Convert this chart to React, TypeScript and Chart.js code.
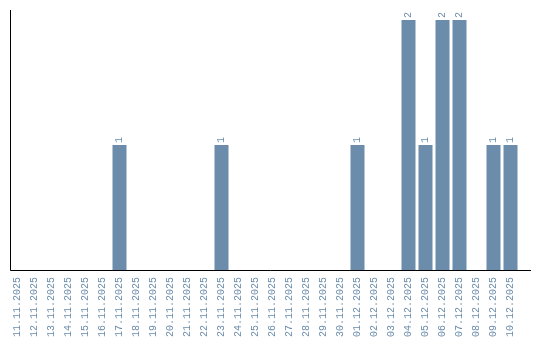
import React, { useEffect, useRef } from "react";
import { Chart, registerables } from "chart.js";

Chart.register(...registerables);

const categories = [
  "11.11.2025", "12.11.2025", "13.11.2025", "14.11.2025", "15.11.2025",
  "16.11.2025", "17.11.2025", "18.11.2025", "19.11.2025", "20.11.2025",
  "21.11.2025", "22.11.2025", "23.11.2025", "24.11.2025", "25.11.2025",
  "26.11.2025", "27.11.2025", "28.11.2025", "29.11.2025", "30.11.2025",
  "01.12.2025", "02.12.2025", "03.12.2025", "04.12.2025", "05.12.2025",
  "06.12.2025", "07.12.2025", "08.12.2025", "09.12.2025", "10.12.2025",
];
const counts = [
  0, 0, 0, 0, 0, 0, 1, 0, 0, 0,
  0, 0, 1, 0, 0, 0, 0, 0, 0, 0,
  1, 0, 0, 2, 1, 2, 2, 0, 1, 1,
];

const BAR_COLOR = "#6b8cab";
const TEXT_COLOR = "#6b8cab";
const FAMILY = "'Liberation Mono', monospace";
const FONT = "10px " + FAMILY;

const axisLinesPlugin = {
  id: "axisLines",
  afterDraw(chart: any) {
    const { ctx, chartArea } = chart;
    ctx.save();
    ctx.strokeStyle = "#000";
    ctx.lineWidth = 1;
    ctx.beginPath();
    const x = 10.5;
    const y = Math.round(chartArea.bottom) + 0.5;
    ctx.moveTo(x, Math.round(chartArea.top));
    ctx.lineTo(x, y);
    ctx.lineTo(531, y);
    ctx.stroke();
    ctx.restore();
  },
};

const valueLabelPlugin = {
  id: "valueLabels",
  afterDatasetsDraw(chart: any) {
    const { ctx } = chart;
    const meta = chart.getDatasetMeta(0);
    ctx.save();
    ctx.font = FONT;
    ctx.fillStyle = TEXT_COLOR;
    ctx.textAlign = "left";
    ctx.textBaseline = "middle";
    meta.data.forEach((el: any, i: number) => {
      const v = counts[i];
      if (!v) return;
      ctx.save();
      ctx.translate(el.x, el.y - 2);
      ctx.rotate(-Math.PI / 2);
      ctx.fillText(String(v), 0, 0);
      ctx.restore();
    });
    ctx.restore();
  },
};

export default function App() {
  const ref = useRef<HTMLCanvasElement>(null);
  useEffect(() => {
    document.body.style.margin = "0";
    const chart = new Chart(ref.current!, {
      type: "bar",
      data: {
        labels: categories,
        datasets: [
          {
            data: counts,
            backgroundColor: BAR_COLOR,
            borderWidth: 0,
            barPercentage: 1,
            categoryPercentage: 14 / 17,
          },
        ],
      },
      options: {
        animation: false,
        responsive: false,
        maintainAspectRatio: false,
        layout: { padding: { left: 9, top: 10, right: 21, bottom: 0 } },
        plugins: { legend: { display: false }, tooltip: { enabled: false } },
        scales: {
          x: {
            grid: { display: false, drawTicks: false },
            border: { display: false },
            afterFit(scale: any) {
              scale.height = 70;
            },
            ticks: {
              color: TEXT_COLOR,
              font: { family: FAMILY, size: 10 },
              minRotation: 90,
              maxRotation: 90,
              autoSkip: false,
              padding: 7,
            },
          },
          y: {
            display: false,
            min: 0,
            max: 2.08,
          },
        },
      },
      plugins: [axisLinesPlugin, valueLabelPlugin],
    });
    return () => chart.destroy();
  }, []);
  return <canvas ref={ref} width={540} height={340} style={{ display: "block" }} />;
}
